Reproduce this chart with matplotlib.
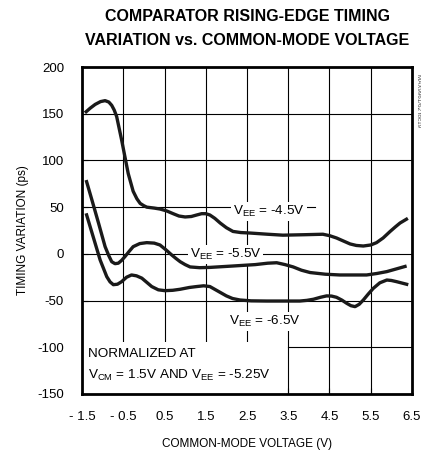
#! /usr/bin/env python3
import matplotlib
matplotlib.use("Agg")
import matplotlib.pyplot as plt
from matplotlib.patches import Rectangle

# curves, x = common-mode voltage (V), y = timing variation (ps)
vee45_x = [-1.43, -1.3, -1.18, -1.05, -0.94, -0.85, -0.78, -0.72, -0.66, -0.54, -0.46, -0.38,
           -0.26, -0.17, -0.09, 0.0, 0.07, 0.25, 0.39, 0.55, 0.71, 0.85, 1.0, 1.15, 1.28, 1.4,
           1.5, 1.6, 1.72, 1.85, 2.0, 2.16, 2.35, 2.57, 3.0, 3.37, 3.9, 4.34, 4.5, 4.67, 4.85,
           5.0, 5.15, 5.32, 5.5, 5.64, 5.8, 5.97, 6.1, 6.21, 6.4]
vee45_y = [151, 156, 160, 163, 164, 162.5, 159, 154, 147, 122, 104, 86,
           67, 59, 54, 51.5, 50, 49, 48, 46, 43, 40.5, 39.5, 40, 41.6, 43,
           43, 41.6, 38, 33, 28, 24, 22.8, 22.3, 21, 20, 20.5, 21, 19.5, 17, 13.5,
           10.6, 9, 8.4, 9.5, 12, 17, 24, 29, 33, 38]

vee55_x = [-1.40, -1.26, -1.1, -0.94, -0.85, -0.78, -0.7, -0.62, -0.54, -0.46, -0.36, -0.26,
           -0.1, 0.07, 0.25, 0.39, 0.53, 0.67, 0.78, 0.88, 1.0, 1.12, 1.35, 1.6, 2.16, 2.7,
           3.0, 3.22, 3.42, 3.62, 3.82, 4.03, 4.4, 4.75, 5.4, 5.65, 5.89, 6.37]
vee55_y = [79, 57.7, 33, 7.7, -2, -8.4, -10.5, -10, -7, -3, 2.5, 7.7,
           11, 12, 11.5, 9.5, 4.5, -1, -5, -8.4, -11.5, -14, -14.8, -14.5, -13, -11.5,
           -10, -9.5, -11.5, -14, -17.5, -20, -21.8, -22.6, -22.6, -21, -19, -13]

vee65_x = [-1.40, -1.23, -1.06, -0.9, -0.82, -0.74, -0.64, -0.54, -0.42, -0.3, -0.18, -0.05,
           0.07, 0.19, 0.35, 0.51, 0.7, 0.88, 1.1, 1.28, 1.45, 1.6, 1.8, 2.0, 2.15, 2.33, 2.6,
           2.98, 3.78, 3.95, 4.11, 4.28, 4.43, 4.55, 4.67, 4.8, 4.92, 5.02, 5.12, 5.22, 5.32,
           5.44, 5.56, 5.72, 5.89, 6.0, 6.13, 6.41]
vee65_y = [43.4, 18.4, -6.6, -24.4, -30, -33, -32.5, -29.8, -25, -22.6, -23.5, -26,
           -30.5, -35, -38.5, -39.4, -39, -37.9, -36, -35, -34.2, -35, -40, -45, -47.8, -49.4, -50.3,
           -50.5, -50.5, -49.8, -48.6, -46.5, -45, -45.2, -46.5, -49.5, -53, -55.5, -56.5, -54, -49.4,
           -43, -37, -31, -28, -28.5, -29.8, -33]

xticks = [-1.5, -0.5, 0.5, 1.5, 2.5, 3.5, 4.5, 5.5, 6.5]
yticks = [200, 150, 100, 50, 0, -50, -100, -150]

plt.rcParams["font.family"] = ["Liberation Sans", "DejaVu Sans"]
plt.rcParams["mathtext.fontset"] = "custom"
plt.rcParams["mathtext.rm"] = "Liberation Sans"
plt.rcParams["mathtext.it"] = "Liberation Sans:italic"

fig = plt.figure(figsize=(4.21, 4.55), dpi=100)
ax = fig.add_axes([0.1948, 0.1341, 0.7838, 0.7186])
ax.set_xlim(-1.5, 6.5)
ax.set_ylim(-150, 200)

# grid drawn by hand, some parts are cut away like in the original
gkw = dict(color="black", linewidth=0.8, zorder=1)
for yv in [150, 100, -50]:
    ax.axhline(yv, **gkw)
ax.axhline(50, xmin=0, xmax=0.706, **gkw)
ax.axhline(0, **gkw)
ax.axhline(-100, xmin=0.625, xmax=1, **gkw)
for xv in xticks[1:-1]:
    ax.axvline(xv, **gkw)

# white box under the normalization note
ax.add_patch(Rectangle((-1.5, -150), 4.97, 55.5, facecolor="white", edgecolor="none", zorder=2))

lkw = dict(color="#1a1a1a", linewidth=2.4, solid_joinstyle="round", solid_capstyle="butt", zorder=4)
ax.plot(vee45_x, vee45_y, **lkw)
ax.plot(vee55_x, vee55_y, **lkw)
ax.plot(vee65_x, vee65_y, **lkw)

box = dict(facecolor="white", edgecolor="none", pad=1.5)
ax.text(3.03, 45, r"V$_{\mathrm{EE}}$ = -4.5V", fontsize=9.7, ha="center", va="center", bbox=box, zorder=3)
ax.text(1.98, -1, r"V$_{\mathrm{EE}}$ = -5.5V", fontsize=9.7, ha="center", va="center", bbox=box, zorder=3)
ax.text(2.94, -72, r"V$_{\mathrm{EE}}$ = -6.5V", fontsize=9.7, ha="center", va="center", bbox=box, zorder=3)
ax.text(-1.36, -107, "NORMALIZED AT", fontsize=9.7, ha="left", va="center", zorder=3)
ax.text(-1.36, -130, r"V$_{\mathrm{CM}}$ = 1.5V AND V$_{\mathrm{EE}}$ = -5.25V", fontsize=9.7,
        ha="left", va="center", zorder=3)

for sp in ax.spines.values():
    sp.set_linewidth(2.0)
    sp.set_zorder(5)

ax.set_xticks(xticks)
ax.set_xticklabels(["%g" % v if v >= 0 else "- %g" % abs(v) for v in xticks])
ax.set_yticks(yticks)
ax.set_yticklabels(["%g" % v if v >= 0 else "-%g" % abs(v) for v in yticks])
ax.tick_params(axis="both", direction="in", length=4, width=0.8, labelsize=9.5)
ax.tick_params(axis="y", pad=13)
ax.tick_params(axis="x", pad=12)

ax.set_xlabel("COMMON-MODE VOLTAGE (V)", fontsize=8.5, labelpad=11)
ax.set_ylabel("TIMING VARIATION (ps)", fontsize=8.5, labelpad=6)

fig.text(0.587, 0.964, "COMPARATOR RISING-EDGE TIMING", fontsize=11.5, fontweight="bold",
         ha="center", va="center")
fig.text(0.587, 0.910, "VARIATION vs. COMMON-MODE VOLTAGE", fontsize=11.5, fontweight="bold",
         ha="center", va="center")
fig.text(0.993, 0.78, "MAX9961/62 toc19", fontsize=4.5, color="#444444", rotation=270,
         ha="center", va="center")

fig.savefig("out.png", dpi=100)
